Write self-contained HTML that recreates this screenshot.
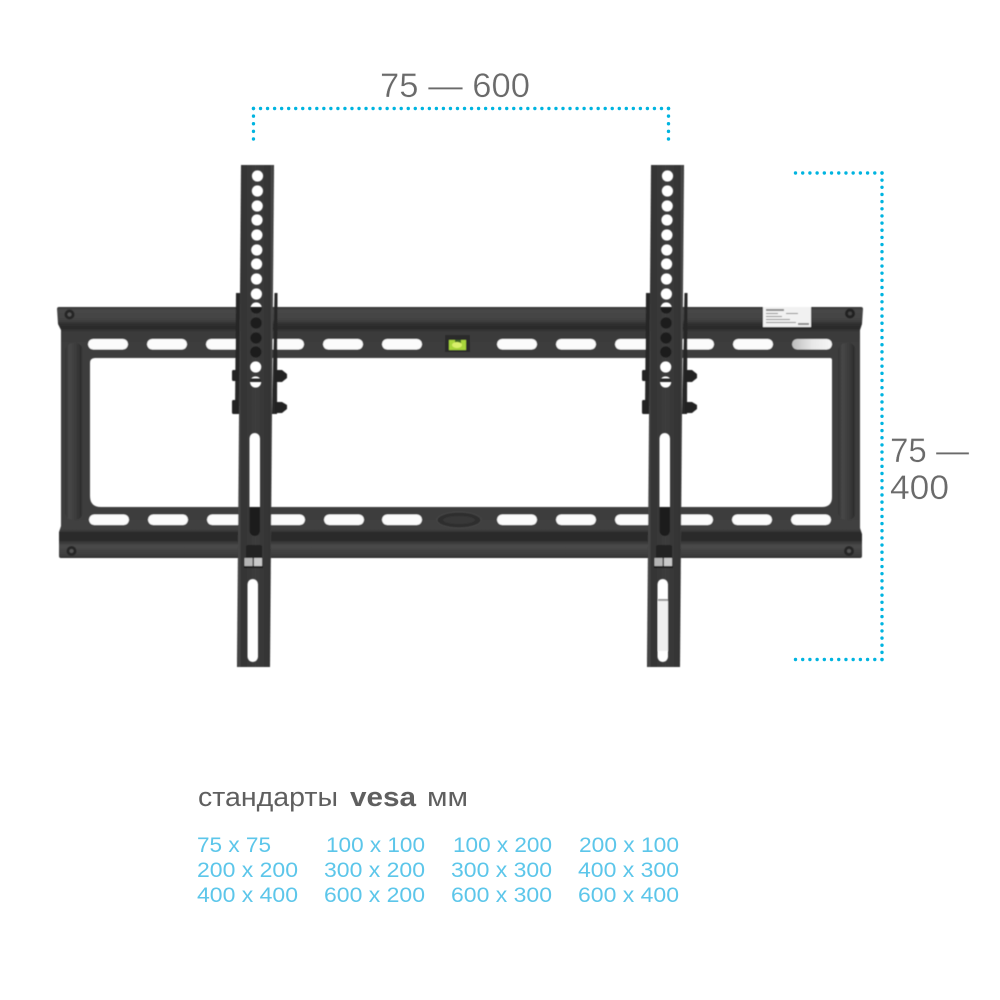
<!DOCTYPE html>
<html>
<head>
<meta charset="utf-8">
<style>
html,body{margin:0;padding:0;background:#fff;width:1000px;height:1000px;overflow:hidden}
svg{display:block}
text{font-family:"Liberation Sans",sans-serif}
</style>
</head>
<body>
<svg width="1000" height="1000" viewBox="0 0 1000 1000" xmlns="http://www.w3.org/2000/svg">
<defs>
<linearGradient id="rail" gradientUnits="userSpaceOnUse" x1="0" y1="307" x2="0" y2="558">
<stop offset="0" stop-color="#333"/>
<stop offset=".012" stop-color="#474747"/>
<stop offset=".05" stop-color="#434343"/>
<stop offset=".07" stop-color="#2e2e2e"/>
<stop offset=".085" stop-color="#2a2a2a"/>
<stop offset=".1" stop-color="#3b3b3b"/>
<stop offset=".2" stop-color="#3d3d3d"/>
<stop offset=".8" stop-color="#3d3d3d"/>
<stop offset=".885" stop-color="#404040"/>
<stop offset=".9" stop-color="#2b2b2b"/>
<stop offset=".93" stop-color="#2c2c2c"/>
<stop offset=".95" stop-color="#4b4b4b"/>
<stop offset=".99" stop-color="#3c3c3c"/>
<stop offset="1" stop-color="#2c2c2c"/>
</linearGradient>
<linearGradient id="arm" x1="0" y1="0" x2="1" y2="0">
<stop offset="0" stop-color="#2a2a2a"/>
<stop offset=".05" stop-color="#4c4c4c"/>
<stop offset=".12" stop-color="#333"/>
<stop offset=".5" stop-color="#3c3c3c"/>
<stop offset=".88" stop-color="#333"/>
<stop offset=".95" stop-color="#4a4a4a"/>
<stop offset="1" stop-color="#2a2a2a"/>
</linearGradient>
<linearGradient id="rib" x1="0" y1="0" x2="1" y2="0">
<stop offset="0" stop-color="#333"/>
<stop offset=".25" stop-color="#474747"/>
<stop offset=".6" stop-color="#3c3c3c"/>
<stop offset=".88" stop-color="#2e2e2e"/>
<stop offset="1" stop-color="#404040"/>
</linearGradient>
<linearGradient id="silver" x1="0" y1="0" x2="1" y2="0">
<stop offset="0" stop-color="#bdbdbd"/>
<stop offset=".5" stop-color="#e8e8e8"/>
<stop offset="1" stop-color="#f6f6f6"/>
</linearGradient>
<filter id="soft" x="-5%" y="-5%" width="110%" height="110%"><feGaussianBlur stdDeviation="0.45"/></filter>
<mask id="armholes" maskUnits="userSpaceOnUse" x="200" y="150" width="100" height="530">
<rect x="200" y="150" width="100" height="530" fill="#fff"/>
<g fill="#000">
<circle cx="257.5" cy="176" r="5.6"/>
<circle cx="257.4" cy="191" r="5.6"/>
<circle cx="257.2" cy="206" r="5.6"/>
<circle cx="257" cy="220" r="5.6"/>
<circle cx="256.9" cy="235" r="5.6"/>
<circle cx="256.8" cy="250" r="5.6"/>
<circle cx="256.6" cy="264" r="5.6"/>
<circle cx="256.5" cy="279" r="5.6"/>
<circle cx="256.4" cy="294" r="5.6"/>
<circle cx="256.2" cy="308" r="5.6"/>
<circle cx="256.1" cy="323" r="5.6"/>
<circle cx="256" cy="338" r="5.6"/>
<circle cx="255.8" cy="352" r="5.6"/>
<circle cx="255.7" cy="367" r="5.6"/>
<circle cx="255.6" cy="382" r="5.6"/>
<rect x="249.5" y="433" width="10.5" height="103" rx="5.2"/>
<rect x="247.5" y="579" width="10.5" height="83" rx="5.2"/>
</g>
</mask>
<g id="armgroup">
<path d="M236 293 L241 293 L240 414 L235 414 Z" fill="#262626"/>
<path d="M274.500 293 L277.500 293 L277 414 L272 414 Z" fill="#262626"/>
<g fill="#222">
<rect x="232" y="370" width="8" height="11" rx="1.500"/>
<rect x="232" y="400" width="8" height="14" rx="1.500"/>
<path d="M275 370h7l5 4v4l-5 4h-7z"/>
<path d="M275 402h7l5 3v4l-5 4h-7z"/>
</g>
<rect x="243" y="307" width="28" height="51" fill="#1c1c1c"/>
<rect x="243" y="507" width="28" height="31" fill="#1c1c1c"/>
<rect x="249" y="378.500" width="14" height="3.500" fill="#2a2a2a"/>
<path d="M241 165 L274 165 L270 667 L237 667 Z" fill="url(#arm)" mask="url(#armholes)"/>
<path d="M246 547 q0 -2 2 -2 h12 q2 0 2 2 v11 h-16 z" fill="#222"/>
<rect x="244.500" y="558" width="8" height="8" fill="#b5b5b5"/>
<rect x="254" y="558" width="8" height="8" fill="#c9c9c9"/>
<rect x="244" y="566" width="19" height="2" fill="#1d1d1d"/>
</g>
</defs>

<!-- Dimension guides -->
<g fill="none" stroke="#00b4e0" stroke-width="3.4" stroke-linecap="round">
<path d="M253.500 108.500 H669" stroke-dasharray="0 7.034"/>
<path d="M253.500 108.500 V139.500" stroke-dasharray="0 7.625"/>
<path d="M668.500 108.500 V139.500" stroke-dasharray="0 7.625"/>
<path d="M795.500 173 H882.500" stroke-dasharray="0 7.208"/>
<path d="M882 173 V660" stroke-dasharray="0 7.155"/>
<path d="M795.500 659.500 H882.500" stroke-dasharray="0 7.208"/>
</g>

<!-- Mount -->
<g filter="url(#soft)">
<path fill="url(#rail)" fill-rule="evenodd" d="M59 307 H861 Q863 307 863 309 L862 324 L860 330 L860 528 L862 534 L862 556 Q862 558 860 558 H61 Q59 558 59 556 L59 532 L61 526 L61 330 L58 324 L57 309 Q57 307 59 307 Z
M95 358 H830 Q832 358 832 360 V497 Q832 507 822 507 H101 Q90 507 90 496 V363 Q90 358 95 358 Z"/>
<rect x="65" y="343" width="18" height="177" rx="8" fill="url(#rib)"/>
<rect x="838" y="343" width="18" height="177" rx="8" fill="url(#rib)"/>
<g fill="#fbfbfb">
<rect x="88" y="339" width="40" height="10.500" rx="5.200"/>
<rect x="147" y="339" width="40" height="10.500" rx="5.200"/>
<rect x="206" y="339" width="40" height="10.500" rx="5.200"/>
<rect x="265" y="339" width="39" height="10.500" rx="5.200"/>
<rect x="323" y="339" width="40" height="10.500" rx="5.200"/>
<rect x="382" y="339" width="40" height="10.500" rx="5.200"/>
<rect x="497" y="339" width="40" height="10.500" rx="5.200"/>
<rect x="556" y="339" width="40" height="10.500" rx="5.200"/>
<rect x="615" y="339" width="40" height="10.500" rx="5.200"/>
<rect x="674" y="339" width="40" height="10.500" rx="5.200"/>
<rect x="733" y="339" width="40" height="10.500" rx="5.200"/>
<rect x="89" y="514.500" width="40" height="10.500" rx="5.200"/>
<rect x="148" y="514.500" width="40" height="10.500" rx="5.200"/>
<rect x="207" y="514.500" width="40" height="10.500" rx="5.200"/>
<rect x="265" y="514.500" width="40" height="10.500" rx="5.200"/>
<rect x="324" y="514.500" width="40" height="10.500" rx="5.200"/>
<rect x="382" y="514.500" width="40" height="10.500" rx="5.200"/>
<rect x="497" y="514.500" width="40" height="10.500" rx="5.200"/>
<rect x="556" y="514.500" width="40" height="10.500" rx="5.200"/>
<rect x="615" y="514.500" width="40" height="10.500" rx="5.200"/>
<rect x="673" y="514.500" width="40" height="10.500" rx="5.200"/>
<rect x="732" y="514.500" width="40" height="10.500" rx="5.200"/>
<rect x="791" y="514.500" width="40" height="10.500" rx="5.200"/>
</g>
<rect x="792" y="339" width="40" height="10.500" rx="5.200" fill="url(#silver)"/>

<!-- screws -->
<g>
<circle cx="69.500" cy="314.500" r="5" fill="#252525"/><circle cx="69.500" cy="314.500" r="2" fill="#555"/>
<circle cx="71.500" cy="551" r="5" fill="#252525"/><circle cx="71.500" cy="551" r="2" fill="#555"/>
<circle cx="850" cy="313.500" r="5" fill="#222"/><circle cx="850" cy="313.500" r="2" fill="#444"/>
<circle cx="849" cy="551" r="5" fill="#252525"/><circle cx="849" cy="551" r="2" fill="#555"/>
</g>

<!-- sticker -->
<rect x="763" y="307" width="48" height="20" fill="#f1f1f1"/>
<g fill="#8a8a8a">
<rect x="766" y="309" width="18" height="2"/>
<rect x="766" y="313" width="12" height="1"/>
<rect x="786" y="313" width="12" height="1"/>
<rect x="766" y="316" width="16" height="1"/>
<rect x="766" y="319" width="24" height="1"/>
<rect x="766" y="322" width="30" height="1"/>
<rect x="798" y="323" width="11" height="2"/>
</g>

<!-- level -->
<rect x="445" y="335" width="25" height="17" fill="#2c2c2c"/>
<rect x="449" y="340" width="17" height="10" fill="#a8d63a"/>
<rect x="455" y="340" width="6" height="4" fill="#3f6a20"/>
<ellipse cx="457" cy="345" rx="5" ry="3" fill="#d9f06a"/>

<!-- badge -->
<ellipse cx="459" cy="520" rx="22" ry="8" fill="#2f2f2f" stroke="#474747" stroke-width="1"/>
<ellipse cx="459" cy="520" rx="16" ry="4" fill="#383838"/>

<use href="#armgroup"/>
<use href="#armgroup" transform="translate(410 0)"/>
<rect x="658" y="599" width="10" height="2" fill="#999"/>
<rect x="658" y="601" width="10" height="50" fill="#f0f0f0"/>
</g>

<!-- Labels -->
<g fill="#6a6a6a" font-size="34" stroke="#fff" stroke-width="0.35">
<text x="380" y="97" textLength="150" lengthAdjust="spacingAndGlyphs">75 — 600</text>
<text x="890" y="462" textLength="79" lengthAdjust="spacingAndGlyphs">75 —</text>
<text x="890" y="499" textLength="59" lengthAdjust="spacingAndGlyphs">400</text>
</g>
<g fill="#5f5f5f" font-size="27">
<text x="198" y="806" textLength="140" lengthAdjust="spacingAndGlyphs">стандарты</text>
<text x="350" y="806" textLength="66" lengthAdjust="spacingAndGlyphs" font-weight="700">vesa</text>
<text x="427" y="806" textLength="41" lengthAdjust="spacingAndGlyphs">мм</text>
</g>
<g fill="#5cc6ea" font-size="21">
<text x="197" y="852" textLength="74" lengthAdjust="spacingAndGlyphs">75 x 75</text>
<text x="326" y="852" textLength="99" lengthAdjust="spacingAndGlyphs">100 x 100</text>
<text x="453" y="852" textLength="99" lengthAdjust="spacingAndGlyphs">100 x 200</text>
<text x="579" y="852" textLength="100" lengthAdjust="spacingAndGlyphs">200 x 100</text>
<text x="197" y="877" textLength="101" lengthAdjust="spacingAndGlyphs">200 x 200</text>
<text x="324" y="877" textLength="101" lengthAdjust="spacingAndGlyphs">300 x 200</text>
<text x="451" y="877" textLength="101" lengthAdjust="spacingAndGlyphs">300 x 300</text>
<text x="578" y="877" textLength="101" lengthAdjust="spacingAndGlyphs">400 x 300</text>
<text x="197" y="902" textLength="101" lengthAdjust="spacingAndGlyphs">400 x 400</text>
<text x="324" y="902" textLength="101" lengthAdjust="spacingAndGlyphs">600 x 200</text>
<text x="451" y="902" textLength="101" lengthAdjust="spacingAndGlyphs">600 x 300</text>
<text x="578" y="902" textLength="101" lengthAdjust="spacingAndGlyphs">600 x 400</text>
</g>
</svg>
</body>
</html>
